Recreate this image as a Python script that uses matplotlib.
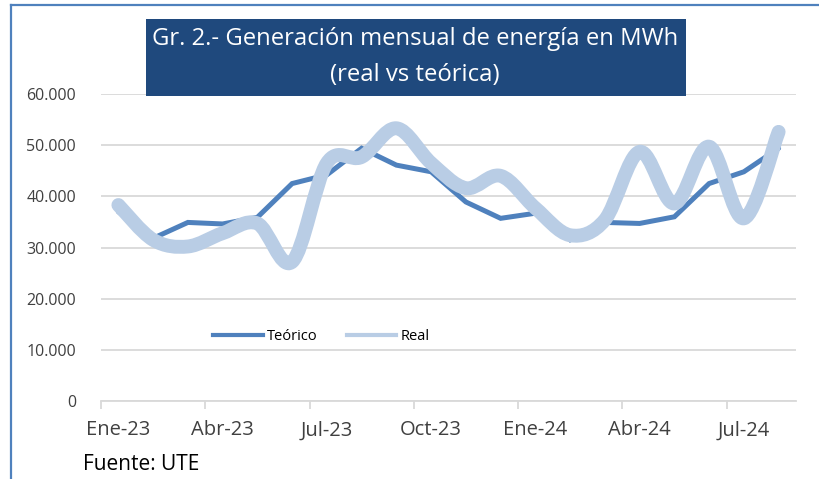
import matplotlib
matplotlib.use('Agg')
import matplotlib.pyplot as plt
from matplotlib.path import Path
from matplotlib.patches import PathPatch, Rectangle
from matplotlib.lines import Line2D
from matplotlib.ticker import FuncFormatter
import numpy as np

# monthly generation in MWh, Ene-23 .. Ago-24
months = ['Ene-23', 'Feb-23', 'Mar-23', 'Abr-23', 'May-23', 'Jun-23', 'Jul-23', 'Ago-23',
          'Sep-23', 'Oct-23', 'Nov-23', 'Dic-23', 'Ene-24', 'Feb-24', 'Mar-24', 'Abr-24',
          'May-24', 'Jun-24', 'Jul-24', 'Ago-24']
teorico = [37000, 31800, 34900, 34600, 35900, 42500, 44200, 49400, 46100, 44800,
           38900, 35700, 36700, 31500, 34900, 34700, 36000, 42500, 44800, 49400]
real = [38300, 31500, 30200, 32800, 34700, 27200, 46500, 47700, 53300, 46500,
        41600, 44000, 37700, 32400, 35400, 48700, 38600, 49700, 35700, 52600]
y_ticks = [0, 10000, 20000, 30000, 40000, 50000, 60000]

C_TEO = '#4F81BD'
C_REAL = '#B9CDE5'
FONT = 'Open Sans'


def smooth_path(xs, ys):
    # bezier segments like a spreadsheet "smoothed line"
    pts = np.column_stack([xs, ys]).astype(float)
    verts = [pts[0]]
    codes = [Path.MOVETO]
    n = len(pts)
    for i in range(n - 1):
        p0 = pts[i - 1] if i > 0 else pts[i]
        p1 = pts[i]
        p2 = pts[i + 1]
        p3 = pts[i + 2] if i + 2 < n else pts[i + 1]
        verts += [p1 + (p2 - p0) / 6, p2 - (p3 - p1) / 6, p2]
        codes += [Path.CURVE4] * 3
    return Path(verts, codes)


fig = plt.figure(figsize=(8.19, 4.79), dpi=100)
ax = fig.add_axes([101 / 819, 1 - 401 / 479, 695 / 819, 307 / 479])

x = np.arange(len(months))
ax.plot(x, teorico, color=C_TEO, lw=3.6, solid_capstyle='round', solid_joinstyle='miter', zorder=3)
ax.add_patch(PathPatch(smooth_path(x, real), fill=False, edgecolor=C_REAL, lw=10,
                       capstyle='round', joinstyle='round', zorder=4))

ax.set_xlim(-0.5, len(months) - 0.5)
ax.set_ylim(0, 60000)
ax.set_yticks(y_ticks)
ax.yaxis.set_major_formatter(FuncFormatter(lambda v, p: f'{int(v):,}'.replace(',', '.')))
ax.grid(axis='y', color='#D9D9D9', lw=1.3)
ax.set_axisbelow(True)

ax.set_xticks(x[::3])
ax.set_xticklabels(months[::3])
ax.set_xticks(np.arange(-0.5, len(months) - 1, 3), minor=True)
ax.tick_params(axis='x', which='major', length=0, pad=14, labelsize=14.5, labelcolor='#404040')
ax.tick_params(axis='x', which='minor', length=6, color='#D9D9D9', width=1.3)
ax.tick_params(axis='y', length=0, pad=18, labelsize=11.5, labelcolor='#404040')
for lab in ax.get_xticklabels() + ax.get_yticklabels():
    lab.set_fontfamily(FONT)

for s in ['top', 'right', 'left']:
    ax.spines[s].set_visible(False)
ax.spines['bottom'].set_color('#D9D9D9')
ax.spines['bottom'].set_linewidth(1.3)

handles = [Line2D([], [], color=C_TEO, lw=3), Line2D([], [], color=C_REAL, lw=3)]
fig.legend(handles, ['Teórico', 'Real'], loc='center left', bbox_to_anchor=(213 / 819, 1 - 337 / 479),
           ncol=2, frameon=False, borderpad=0, borderaxespad=0, handlelength=3.4,
           handletextpad=0.3, columnspacing=2.0, prop={'family': FONT, 'size': 10.5})

# title box
fig.patches.append(Rectangle((146 / 819, 1 - 96 / 479), 540 / 819, 77 / 479,
                             transform=fig.transFigure, facecolor='#1F497D', edgecolor='none', zorder=5))
fig.text(415 / 819, 1 - 39 / 479, 'Gr. 2.- Generación mensual de energía en MWh', color='white',
         ha='center', va='center', fontsize=17.2, family=FONT, zorder=6)
fig.text(415 / 819, 1 - 75 / 479, '(real vs teórica)', color='white',
         ha='center', va='center', fontsize=17.2, family=FONT, zorder=6)

fig.text(83 / 819, 1 - 464 / 479, 'Fuente: UTE', ha='left', va='center', fontsize=15, family=FONT, color='black')

# outer frame (top and left only)
fig.add_artist(Line2D([11 / 819, 1], [1 - 5 / 479, 1 - 5 / 479], transform=fig.transFigure, color=C_TEO, lw=1.6))
fig.add_artist(Line2D([11 / 819, 11 / 819], [0, 1 - 5 / 479], transform=fig.transFigure, color=C_TEO, lw=1.6))

fig.savefig('out.png', dpi=100)
